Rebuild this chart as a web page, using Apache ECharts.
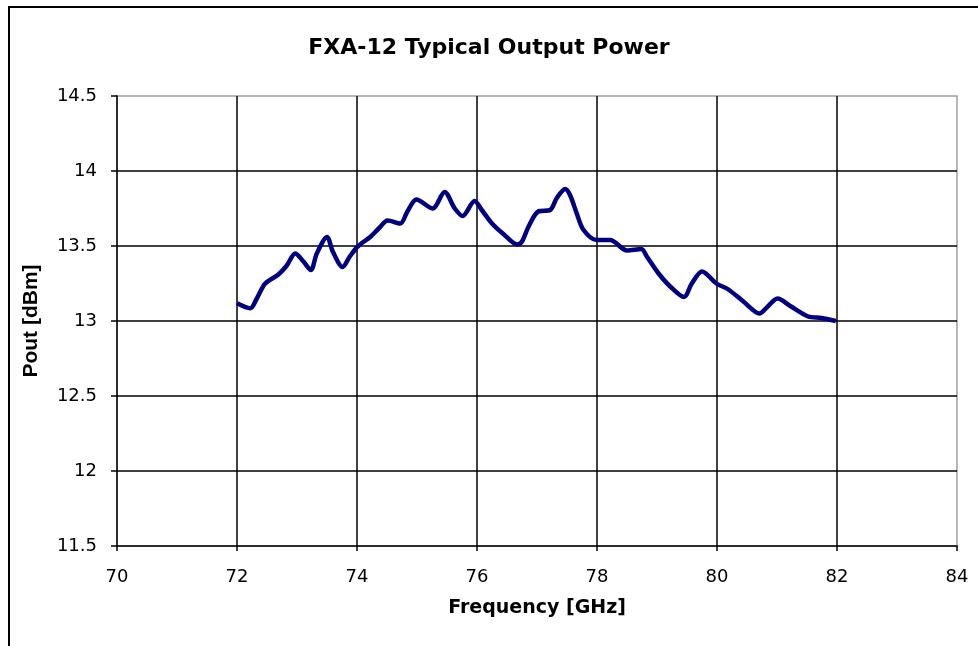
<!DOCTYPE html>
<html>
<head>
<meta charset="utf-8">
<script src="https://cdn.jsdelivr.net/npm/echarts@6/dist/echarts.min.js"></script>
<style>
  html, body { margin: 0; padding: 0; background: #fff; }
  #chart { width: 978px; height: 646px; }
</style>
</head>
<body>
<div id="chart"></div>
<script>
const freq = [72.0, 72.22, 72.33, 72.47, 72.69, 72.83, 72.97, 73.1, 73.23, 73.33, 73.5, 73.6, 73.76, 73.88,
  74.02, 74.22, 74.37, 74.51, 74.72, 74.84, 74.99, 75.26, 75.46, 75.63, 75.76, 75.96, 76.08, 76.25, 76.44,
  76.67, 76.75, 76.86, 77.02, 77.22, 77.33, 77.47, 77.55, 77.66, 77.77, 77.99, 78.22, 78.5, 78.74, 78.83,
  79.02, 79.22, 79.45, 79.58, 79.75, 79.99, 80.19, 80.44, 80.71, 80.83, 81.01, 81.22, 81.52, 81.74, 81.98];
const pout = [13.118, 13.085, 13.15, 13.25, 13.31, 13.37, 13.45, 13.4, 13.34, 13.45, 13.56, 13.46, 13.36, 13.43,
  13.5, 13.56, 13.62, 13.67, 13.65, 13.73, 13.81, 13.75, 13.86, 13.75, 13.7, 13.8, 13.74, 13.65, 13.58,
  13.51, 13.53, 13.63, 13.73, 13.74, 13.82, 13.88, 13.84, 13.72, 13.61, 13.54, 13.54, 13.47, 13.48, 13.43,
  13.32, 13.23, 13.16, 13.25, 13.33, 13.25, 13.21, 13.13, 13.05, 13.09, 13.15, 13.1, 13.03, 13.02, 13.0];

const xTicks = [70, 72, 74, 76, 78, 80, 82, 84];
const yTicks = [11.5, 12, 12.5, 13, 13.5, 14, 14.5];

const chart = echarts.init(document.getElementById('chart'));
const wide = 'DejaVu Sans, Verdana, sans-serif';
const narrow = 'Liberation Sans, Arial, sans-serif';

chart.setOption({
  animation: false,
  title: {
    text: 'FXA-12 Typical Output Power',
    left: 'center',
    top: 32,
    textStyle: {fontFamily: wide, fontSize: 22, fontWeight: 'bold', color: '#000'}
  },
  graphic: [{
    type: 'rect',
    shape: {x: 9, y: 7, width: 1000, height: 700},
    style: {fill: 'none', stroke: '#000', lineWidth: 2}
  }],
  grid: {
    left: 117, right: 21, top: 96, bottom: 100,
    show: true, borderColor: '#a0a0a0', borderWidth: 1.5
  },
  xAxis: {
    type: 'value',
    min: xTicks[0], max: xTicks[xTicks.length - 1], interval: 2,
    name: 'Frequency [GHz]',
    nameLocation: 'middle',
    nameGap: 53,
    nameTextStyle: {fontFamily: wide, fontSize: 19, fontWeight: 'bold', color: '#000'},
    axisLine: {show: true, lineStyle: {color: '#000', width: 1.5}},
    axisTick: {show: true, length: 5, lineStyle: {color: '#000', width: 1.5}},
    axisLabel: {fontFamily: wide, fontSize: 18, color: '#000', margin: 22},
    splitLine: {show: true, showMinLine: false, showMaxLine: false, lineStyle: {color: '#000', width: 1.5}}
  },
  yAxis: {
    type: 'value',
    min: yTicks[0], max: yTicks[yTicks.length - 1], interval: 0.5,
    name: 'Pout [dBm]',
    nameLocation: 'middle',
    nameGap: 75,
    nameTextStyle: {fontFamily: narrow, fontSize: 21, fontWeight: 'bold', color: '#000'},
    axisLine: {show: true, lineStyle: {color: '#000', width: 1.5}},
    axisTick: {show: true, length: 6, lineStyle: {color: '#000', width: 1.5}},
    axisLabel: {fontFamily: wide, fontSize: 18, color: '#000', margin: 20},
    splitLine: {show: true, showMinLine: false, showMaxLine: false, lineStyle: {color: '#000', width: 1.5}}
  },
  series: [{
    type: 'line',
    data: freq.map((f, i) => [f, pout[i]]),
    showSymbol: false,
    smooth: 0.3,
    lineStyle: {color: '#000080', width: 4.5},
    z: 5
  }]
});
</script>
</body>
</html>
